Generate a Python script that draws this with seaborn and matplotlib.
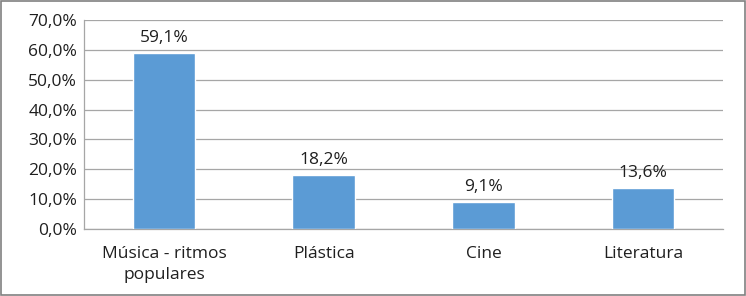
import matplotlib
matplotlib.use("Agg")
import matplotlib.pyplot as plt
from matplotlib.patches import Rectangle
from matplotlib.ticker import FuncFormatter
import seaborn as sns
import pandas as pd

categories = ["Música - ritmos\npopulares", "Plástica", "Cine", "Literatura"]
values = [59.1, 18.2, 9.1, 13.6]
yticks = [0, 10, 20, 30, 40, 50, 60, 70]

sns.set_style("white")
plt.rcParams['font.family'] = ['Open Sans', 'DejaVu Sans']

df = pd.DataFrame({"categoria": categories, "valor": values})

fig = plt.figure(figsize=(7.46, 2.96), dpi=100)
ax = fig.add_axes([0.1126, 0.2264, 0.8566, 0.7061])

sns.barplot(data=df, x="categoria", y="valor", color="#5B9BD5", width=0.39,
            saturation=1, ax=ax, zorder=3)

ax.set_ylim(0, 70)
ax.set_yticks(yticks)
ax.yaxis.set_major_formatter(FuncFormatter(lambda v, p: f"{v:.1f}%".replace(".", ",")))
ax.grid(axis="y", color="#A6A6A6", linewidth=0.9, zorder=0)
ax.set_axisbelow(True)
ax.set_xlabel("")
ax.set_ylabel("")
ax.tick_params(axis="both", length=0, labelsize=12.5, colors="#1F1F1F")
ax.tick_params(axis="x", pad=12)
ax.tick_params(axis="y", pad=5)
for lbl in ax.get_xticklabels():
    lbl.set_linespacing(1.45)

for s in ["top", "right"]:
    ax.spines[s].set_visible(False)
for s in ["left", "bottom"]:
    ax.spines[s].set_color("#A6A6A6")
    ax.spines[s].set_linewidth(0.9)

for cont in ax.containers:
    ax.bar_label(cont, labels=[f"{v:.1f}%".replace(".", ",") for v in values],
                 padding=5, fontsize=12.5, color="#1F1F1F")

fig.patches.append(Rectangle((0.002, 0.004), 0.996, 0.992, transform=fig.transFigure,
                             fill=False, edgecolor="#808080", linewidth=1.2))

fig.savefig("out.png", dpi=100)
